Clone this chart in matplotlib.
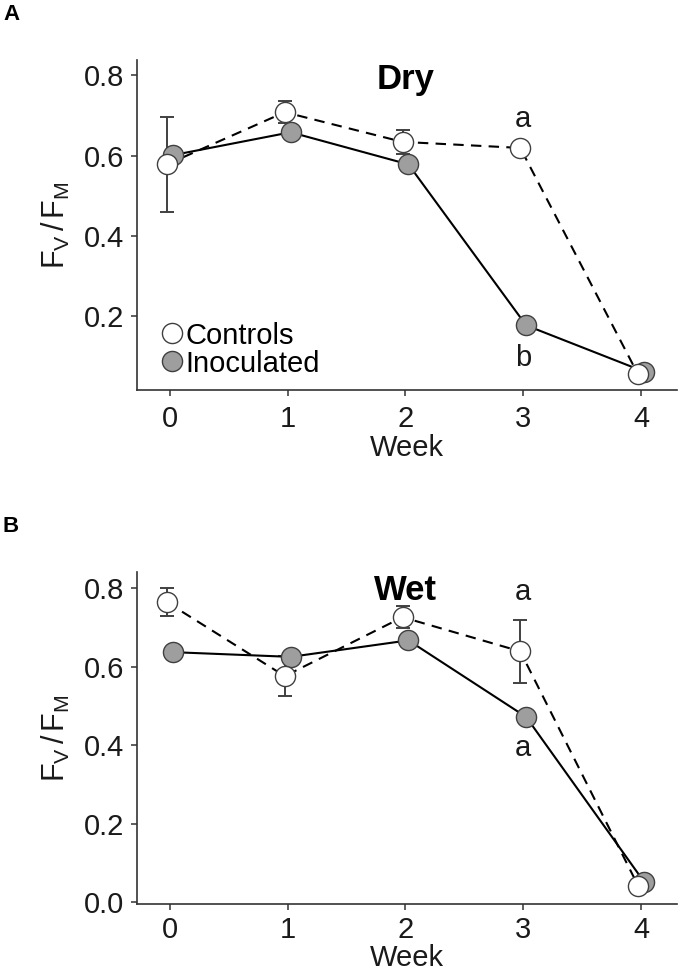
import matplotlib
matplotlib.use("Agg")
import matplotlib.pyplot as plt
from matplotlib.lines import Line2D
import numpy as np

plt.rcParams['font.family'] = ['Liberation Sans', 'DejaVu Sans']
plt.rcParams['mathtext.fontset'] = 'custom'
plt.rcParams['mathtext.rm'] = 'Liberation Sans'
plt.rcParams['mathtext.it'] = 'Liberation Sans'

weeks = [0, 1, 2, 3, 4]

# Panel A (Dry)
dry_controls = [0.578, 0.708, 0.634, 0.619, 0.055]
dry_controls_err = [0.118, 0.027, 0.030, 0.008, 0.006]
dry_inoc = [0.601, 0.658, 0.578, 0.177, 0.062]
dry_inoc_err = [0.008, 0.008, 0.008, 0.015, 0.006]

# Panel B (Wet)
wet_controls = [0.764, 0.576, 0.726, 0.639, 0.043]
wet_controls_err = [0.036, 0.050, 0.028, 0.081, 0.006]
wet_inoc = [0.637, 0.625, 0.667, 0.472, 0.053]
wet_inoc_err = [0.008, 0.008, 0.008, 0.015, 0.006]

panel_titles = ["Dry", "Wet"]
panel_letters = ["A", "B"]
series_labels = ["Controls", "Inoculated"]
sig_letters = [("a", "b"), ("a", "a")]
sig_y = [(0.69, 0.095), (0.79, 0.392)]
title_y = [0.79, 0.794]
ylims = [(0.016, 0.838), (-0.004, 0.841)]
yticks = [[0.2, 0.4, 0.6, 0.8], [0.0, 0.2, 0.4, 0.6, 0.8]]

W, H = 679, 973
fig = plt.figure(figsize=(W / 100, H / 100), dpi=100)

def ax_rect(left, top, right, bottom):
    return [left / W, 1 - bottom / H, (right - left) / W, (bottom - top) / H]

axes = [fig.add_axes(ax_rect(137, 60, 677, 390)),
        fig.add_axes(ax_rect(137, 572, 677, 904))]

data = [(dry_controls, dry_controls_err, dry_inoc, dry_inoc_err),
        (wet_controls, wet_controls_err, wet_inoc, wet_inoc_err)]

dodge = 0.025
axc = '#333333'
gray_fill = '#9e9e9e'
ms = 14.5
fs = 21
xtickpads = [6, 4]
xlabelpads = [1, 0]

for i, ax in enumerate(axes):
    c, ce, n, ne = data[i]
    xc = np.array(weeks) - dodge
    xn = np.array(weeks) + dodge
    # error bars
    ax.errorbar(xn, n, yerr=ne, fmt='none', ecolor='#404040', elinewidth=1.4,
                capsize=5, capthick=1.4, zorder=2)
    ax.errorbar(xc, c, yerr=ce, fmt='none', ecolor='#404040', elinewidth=1.4,
                capsize=5, capthick=1.4, zorder=2)
    # lines
    ax.plot(xn, n, '-', color='black', lw=1.5, zorder=3)
    ax.plot(xc, c, '--', color='black', lw=1.5, dashes=(5, 3.5), zorder=3)
    # points
    ax.plot(xn, n, 'o', ms=ms, mfc=gray_fill, mec='#404040', mew=1.0, ls='none', zorder=4)
    ax.plot(xc, c, 'o', ms=ms, mfc='white', mec='#404040', mew=1.0, ls='none', zorder=5)

    ax.set_xlim(-0.28, 4.306)
    ax.set_ylim(*ylims[i])
    ax.set_xticks(weeks)
    ax.set_xticklabels([str(w) for w in weeks])
    ax.set_yticks(yticks[i])
    ax.set_yticklabels([f"{t:.1f}" for t in yticks[i]])
    for s in ['top', 'right']:
        ax.spines[s].set_visible(False)
    for s in ['left', 'bottom']:
        ax.spines[s].set_color(axc)
        ax.spines[s].set_linewidth(1.2)
    ax.tick_params(axis='both', length=4.5, width=1.1, color=axc,
                   labelsize=fs, labelcolor='#1a1a1a', pad=5)
    ax.tick_params(axis='x', pad=xtickpads[i])
    ax.set_xlabel("Week", fontsize=fs, color='#1a1a1a', labelpad=xlabelpads[i])
    ax.set_ylabel(r"$\mathregular{F_V\,/\,F_M}$", fontsize=22, color='#1a1a1a', labelpad=8)

    ax.text(2, title_y[i], panel_titles[i], fontsize=25, fontweight='bold',
            ha='center', va='center', color='black')
    ax.text(3, sig_y[i][0], sig_letters[i][0], fontsize=fs, ha='center', va='center',
            color='#1a1a1a')
    ax.text(3, sig_y[i][1], sig_letters[i][1], fontsize=fs, ha='center', va='center',
            color='#1a1a1a')

# legend in panel A
handles = [Line2D([], [], marker='o', ls='none', ms=ms, mfc='white', mec='#404040', mew=1.0),
           Line2D([], [], marker='o', ls='none', ms=ms, mfc=gray_fill, mec='#404040', mew=1.0)]
axes[0].legend(handles, series_labels, loc='lower left', bbox_to_anchor=(0.035, 0.02),
               frameon=False, fontsize=fs, handlelength=0.7, handletextpad=0.1,
               labelspacing=0.0, borderaxespad=0.0, borderpad=0.2)

fig.text(3 / W, 1 - 14 / H, panel_letters[0], fontsize=16, fontweight='bold',
         ha='left', va='center')
fig.text(3 / W, 1 - 526 / H, panel_letters[1], fontsize=16, fontweight='bold',
         ha='left', va='center')

fig.savefig("out.png", dpi=100)
